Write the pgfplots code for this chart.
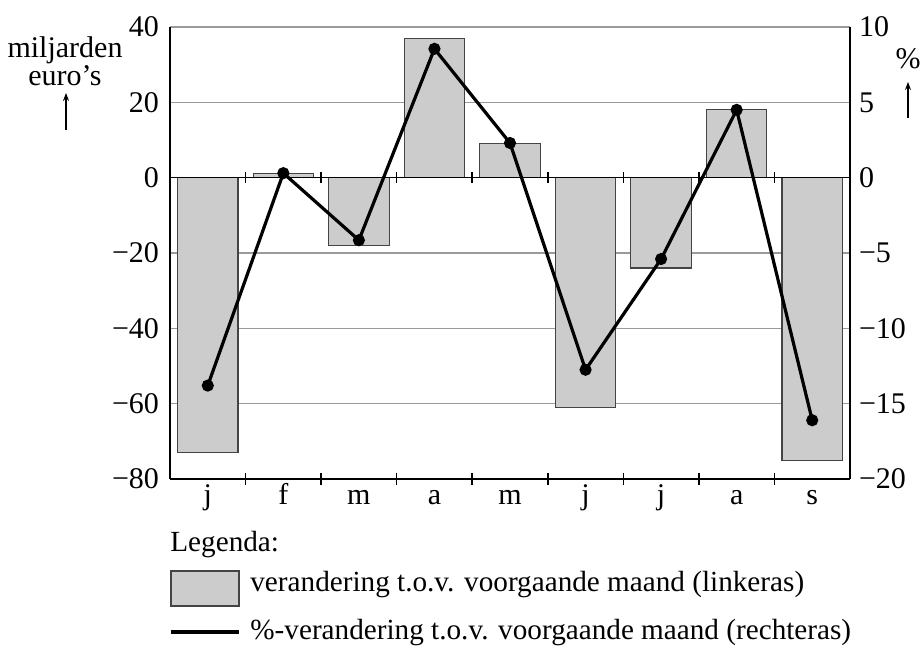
\documentclass[border=0pt]{standalone}
\usepackage{fontspec}
\setmainfont{Liberation Serif}
\usepackage{pgfplots}
\pgfplotsset{compat=1.18}
\usetikzlibrary{arrows.meta}
\definecolor{barfill}{HTML}{CCCCCC}
\definecolor{baredge}{HTML}{444444}
\definecolor{gridc}{HTML}{9A9A9A}
\begin{document}
\begin{tikzpicture}[font=\fontsize{15}{12}\selectfont]
\clip (-85pt,-83.5pt) rectangle (376pt,239.5pt);
\begin{axis}[
  scale only axis, width=340pt, height=226pt,
  xmin=-0.5, xmax=8.5, ymin=-80, ymax=40,
  axis x line=bottom, axis y line=left,
  axis line style={-, black, line width=1pt},
  xtick={0.5,1.5,2.5,3.5,4.5,5.5,6.5,7.5},
  xticklabels={},
  major x tick style={black, line width=0.8pt},
  major tick length=6pt,
  xtick align=center,
  extra x ticks={0,1,2,3,4,5,6,7,8},
  extra x tick labels={j,f,m,a,m,j,j,a,s},
  extra x tick style={major tick length=0pt, tick style={draw=none},
     tick label style={text height=10pt, text depth=3pt, yshift=1pt}},
  ytick={-80,-60,-40,-20,0,20,40},
  yticklabels={−80,−60,−40,−20,0,20,40},
  major y tick style={draw=none},
  y tick label style={xshift=1pt},
  ymajorgrids, grid style={gridc, line width=0.6pt},
  tick label style={font=\fontsize{15}{12}\selectfont},
  clip=false,
]
\addplot[ybar, bar width=0.8, fill=barfill, draw=baredge, line width=0.6pt] coordinates {
 (0,-73) (1,1) (2,-18) (3,37) (4,9) (5,-61) (6,-24) (7,18) (8,-75)};
\draw[black, line width=0.8pt] (axis cs:-0.5,0) -- (axis cs:8.5,0);
\pgfplotsinvokeforeach{0.5,1.5,2.5,3.5,4.5,5.5,6.5,7.5}{
  \draw[black, line width=0.8pt] (axis cs:#1,-1.4) -- (axis cs:#1,1.4);
}
\end{axis}
\begin{axis}[
  scale only axis, width=340pt, height=226pt,
  xmin=-0.5, xmax=8.5, ymin=-20, ymax=10,
  axis x line=none, axis y line*=right,
  axis line style={-, black, line width=1pt},
  ytick={-20,-15,-10,-5,0,5,10},
  yticklabels={−20,−15,−10,−5,0,5,10},
  major y tick style={draw=none},
  y tick label style={xshift=1pt},
  tick label style={font=\fontsize{15}{12}\selectfont},
  clip=false,
]
\addplot[black, line width=1.6pt, mark=*, mark size=2.2pt] coordinates {
 (0,-13.8) (1,0.3) (2,-4.15) (3,8.55) (4,2.3) (5,-12.75) (6,-5.4) (7,4.5) (8,-16.1)};
\end{axis}
% axis titles
\node[align=center, inner sep=0pt] at (-52.5pt,209pt) {miljarden\\euro’s};
\draw[-{Stealth[length=4pt,width=3pt]}, line width=0.6pt] (-52pt,174.5pt) -- (-52pt,193pt);
\node[inner sep=0pt] at (369pt,210pt) {\%};
\draw[-{Stealth[length=4pt,width=3pt]}, line width=0.6pt] (369pt,180.5pt) -- (369pt,198.5pt);
% legend
\begin{scope}[font=\fontsize{14.6}{12}\selectfont]
\node[anchor=west, inner sep=0pt] at (0pt,-33pt) {Legenda:};
\draw[fill=barfill, draw=baredge, line width=0.6pt] (0.5pt,-46pt) rectangle (34.5pt,-63.5pt);
\node[anchor=west, inner sep=0pt] at (40pt,-53pt) {verandering t.o.v. voorgaande maand (linkeras)};
\draw[black, line width=1.6pt] (0.5pt,-76.5pt) -- (34.5pt,-76.5pt);
\node[anchor=west, inner sep=0pt] at (40pt,-77pt) {\%-verandering t.o.v. voorgaande maand (rechteras)};
\end{scope}
\end{tikzpicture}
\end{document}
